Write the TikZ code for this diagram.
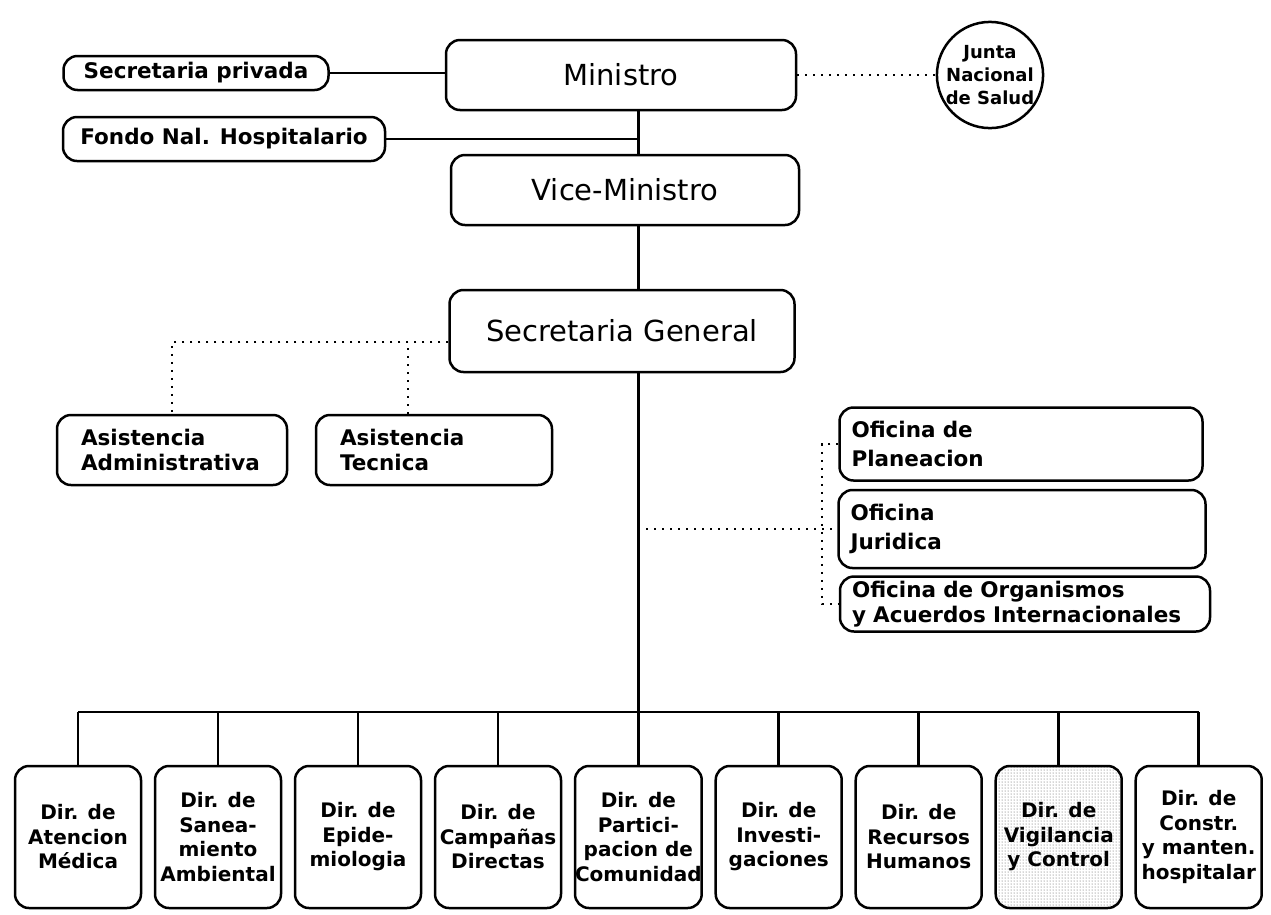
\documentclass[tikz,border=0pt]{standalone}
\usepackage{fontspec}
\setmainfont{DejaVu Sans}
\usetikzlibrary{positioning, patterns}

\newcommand{\headfont}{\fontsize{29}{34}\selectfont}
\newcommand{\unitfont}{\fontsize{21.5}{25}\selectfont\bfseries}
\newcommand{\dirfont}{\fontsize{20}{24.5}\selectfont\bfseries}
\newcommand{\juntafont}{\fontsize{18}{23}\selectfont\bfseries}

\tikzset{
  unit/.style={draw, line width=2.5pt, rounded corners=14pt, font=\unitfont, inner sep=0pt},
  head/.style={unit, font=\headfont, minimum height=70pt},
  dir/.style={unit, font=\dirfont, align=center, minimum width=126pt, minimum height=142pt},
  side/.style={unit, align=left, inner xsep=24pt, minimum height=70pt},
  link/.style={line width=2.5pt},
  aux/.style={line width=2pt, dash pattern=on 2pt off 6pt},
}

\begin{document}
\begin{tikzpicture}[x=1pt, y=-1pt]
  \useasboundingbox (0,0) rectangle (1271,914);

  % cabeza
  \node (mi) [head, minimum width=350pt] at (621,75) {Ministro};
  \node (vm) [head, minimum width=348pt] at (625,190) {Vice-Ministro};
  \node (sg) [head, minimum width=345pt, minimum height=82pt] at (622,331) {Secretaria General};
  \node (sp) [unit, minimum width=265pt, minimum height=34pt] at (196,73) {Secretaria privada};
  \node (fn) [unit, minimum width=322pt, minimum height=44pt] at (224,139) {Fondo Nal. Hospitalario};
  \node (jn) [unit, circle, rounded corners=0pt, font=\juntafont, align=center, minimum size=106pt]
    at (990,75) {Junta\\Nacional\\de Salud};

  % asistencias
  \node (aa) [side, text width=182pt] at (172,450) {Asistencia\\Administrativa};
  \node (at) [side, text width=188pt] at (434,450) {Asistencia\\Tecnica};

  % oficinas
  \node (op) [side, inner xsep=12pt, text width=339pt, minimum height=73pt] at (1021,444)
    {Oficina de\\[4pt]Planeacion};
  \node (oj) [side, inner xsep=12pt, text width=343pt, minimum height=78pt] at (1022,529)
    {Oficina\\[4pt]Juridica};
  \node (oo) [side, inner xsep=12pt, text width=346pt, minimum height=55pt] at (1025,604)
    {Oficina de Organismos\\y Acuerdos Internacionales};

  % direcciones
  \node (d1) [dir] at (78,837) {Dir. de\\Atencion\\Médica};
  \node (d2) [dir, right=11.5pt of d1] {Dir. de\\Sanea-\\miento\\Ambiental};
  \node (d3) [dir, right=11.5pt of d2] {Dir. de\\Epide-\\miologia};
  \node (d4) [dir, right=11.5pt of d3] {Dir. de\\Campañas\\Directas};
  \node (d5) [dir, right=11.5pt of d4] {Dir. de\\Partici-\\pacion de\\Comunidad};
  \node (d6) [dir, right=11.5pt of d5] {Dir. de\\Investi-\\gaciones};
  \node (d7) [dir, right=11.5pt of d6] {Dir. de\\Recursos\\Humanos};
  \node (d8) [dir, right=11.5pt of d7, pattern=dots, pattern color=black!70]
    {Dir. de\\Vigilancia\\y Control};
  \node (d9) [dir, right=11.5pt of d8] {Dir. de\\Constr.\\y manten.\\hospitalar};

  \coordinate (spine) at (d5.north);
  \coordinate (bus) at (0,712);
  \coordinate (ofx) at (822,0);
  \coordinate (sgtap) at ([yshift=-11pt]sg.west);
  \coordinate (attap) at ([xshift=-26pt]at.north);

  % lineas
  \draw [link] (sp.east) -- (sp.east -| mi.west);
  \draw [link] (fn.east) -- (fn.east -| spine);
  \draw [link] (mi.south -| spine) -- (vm.north -| spine);
  \draw [link] (vm.south -| spine) -- (sg.north -| spine);
  \draw [link] (sg.south -| spine) -- (spine |- bus);
  \draw [link] (d1.north |- bus) -- (d9.north |- bus);
  \foreach \i in {1,...,9}
    \draw [link] (d\i.north) -- (d\i.north |- bus);

  \draw [aux] (mi.east) -- (mi.east -| jn.west);
  \draw [aux] (sgtap) -| (aa.north);
  \draw [aux] (attap) -- (attap |- sgtap);
  \draw [aux] (oj.west -| spine) -- (oj.west);
  \draw [aux] (op.west) -- (op.west -| ofx) -- (oo.west -| ofx) -- (oo.west);
\end{tikzpicture}
\end{document}
